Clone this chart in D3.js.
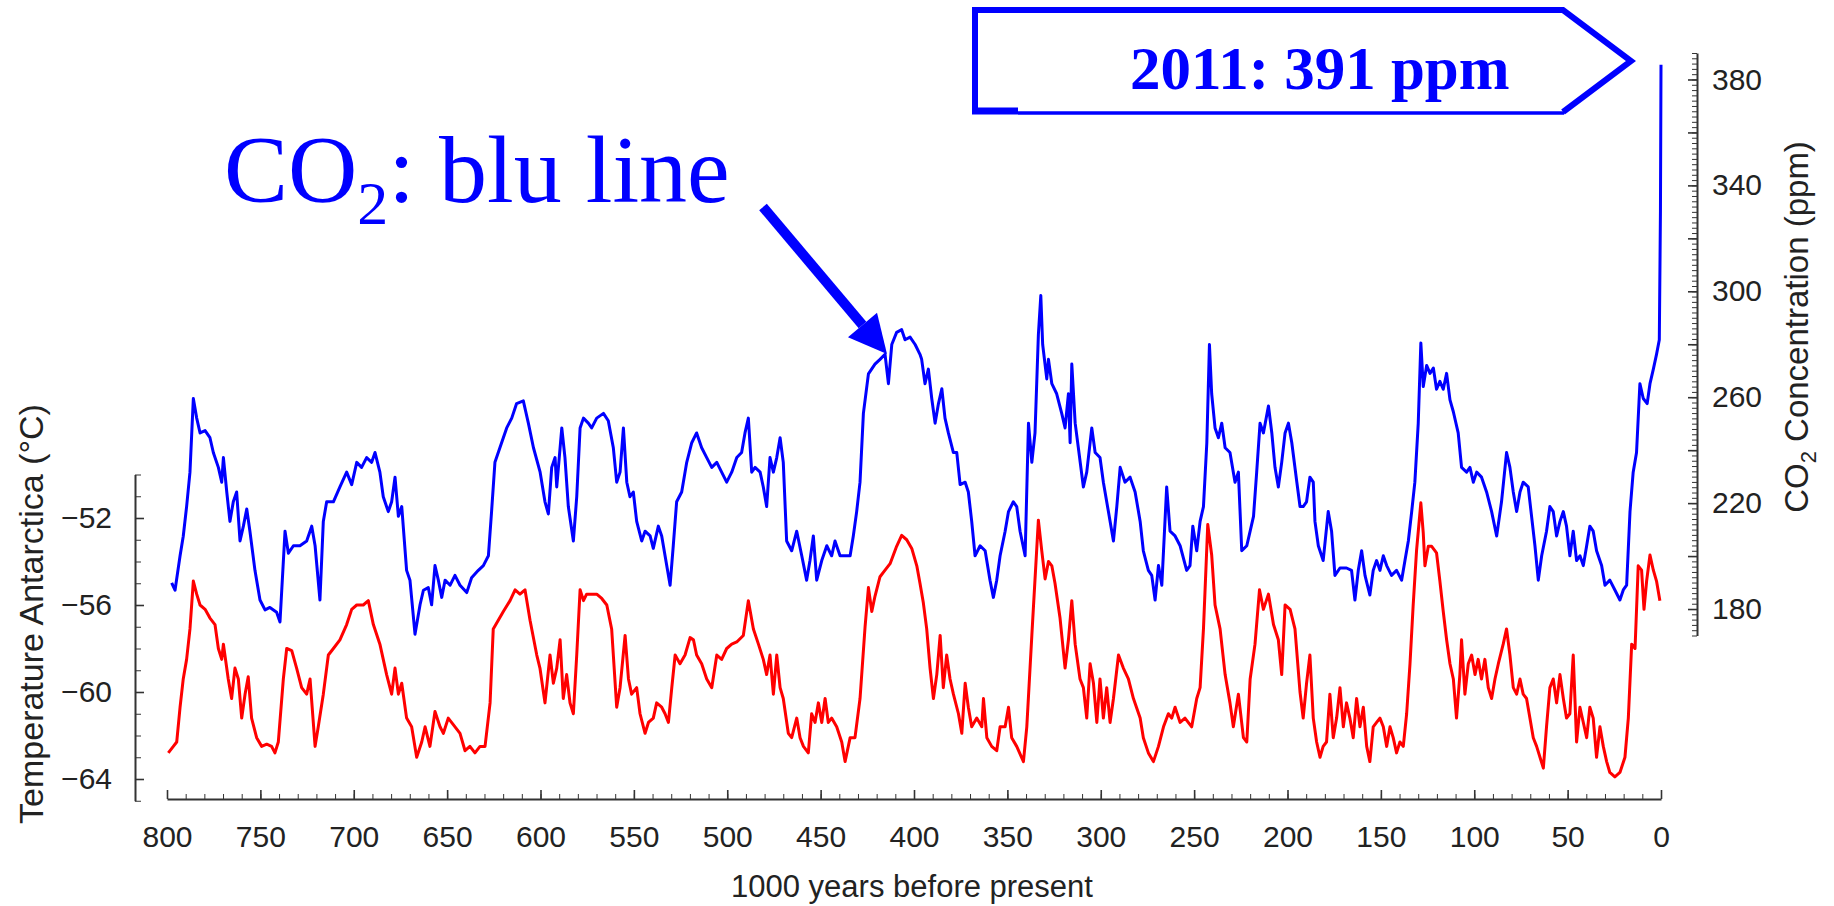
<!DOCTYPE html>
<html>
<head>
<meta charset="utf-8">
<script src="https://cdn.jsdelivr.net/npm/d3@7"></script>
<style>
  body { margin: 0; background: #fff; }
  .axis text { font-family: "Liberation Sans", Arial, sans-serif; font-size: 30px; fill: #222; }
  .axis path, .axis line { stroke: #333; }
</style>
</head>
<body>
<div id="chart"></div>
<script>
// thousand years before present, CO2 in ppm
let co2Series = [
  [797.5,189.9],[795.7,187.1],[793.0,200.1],[791.3,207.5],[789.5,218.7],[787.7,231.7],[785.9,259.5],[784.1,252.1],
  [782.3,246.5],[779.6,247.4],[777.0,244.7],[775.2,239.1],[772.5,233.5],[770.7,227.9],[769.8,237.2],[768.0,224.2],
  [766.3,213.1],[764.5,220.5],[762.7,224.2],[760.9,205.7],[759.1,211.3],[757.3,217.8],[755.6,209.4],[752.9,194.6],
  [750.2,183.4],[747.5,179.7],[744.9,180.6],[741.3,178.8],[739.5,175.1],[736.8,209.4],[735.0,201.1],[732.3,203.9],
  [728.8,203.9],[725.2,205.7],[722.5,211.3],[720.7,203.9],[718.1,183.4],[716.3,213.1],[714.5,220.5],[710.9,220.5],
  [707.4,226.1],[703.8,231.7],[701.1,227.0],[698.4,235.4],[695.8,233.5],[693.1,237.2],[690.4,235.4],[688.6,239.1],
  [686.0,231.7],[684.2,222.4],[681.5,216.8],[679.7,220.5],[677.9,229.8],[676.1,215.0],[674.3,218.7],[671.7,194.6],
  [669.9,190.9],[667.2,170.5],[664.5,181.6],[662.7,187.1],[660.1,188.1],[658.3,181.6],[656.5,196.4],[654.7,190.9],
  [652.9,184.4],[651.1,190.9],[648.4,189.0],[645.8,192.7],[643.1,189.0],[639.5,186.2],[636.9,191.8],[633.3,194.6],
  [630.6,196.4],[627.9,200.1],[626.2,216.8],[624.4,235.4],[621.7,241.0],[618.1,248.4],[615.4,252.1],[612.8,257.6],
  [609.2,258.6],[606.5,250.2],[603.8,241.0],[600.2,231.7],[597.6,220.5],[595.8,215.9],[594.0,233.5],[592.2,237.2],
  [591.3,226.1],[588.6,248.4],[586.9,237.2],[585.1,218.7],[582.4,205.7],[580.6,222.4],[578.8,248.4],[577.0,252.1],
  [574.4,250.2],[572.6,248.4],[569.9,252.1],[566.3,253.9],[563.7,251.1],[561.0,240.9],[559.2,227.9],[557.4,231.7],
  [555.6,248.4],[553.8,227.9],[552.1,222.4],[550.3,224.2],[548.5,213.1],[545.8,205.7],[544.0,209.4],[541.3,207.6],
  [539.6,202.9],[536.9,211.3],[535.1,207.6],[533.3,200.1],[530.6,189.0],[528.9,203.9],[527.1,220.5],[524.4,224.2],
  [521.7,235.4],[519.0,242.8],[516.4,246.5],[513.7,240.9],[511.0,237.2],[508.3,233.5],[505.6,235.4],[503.0,231.7],
  [500.3,227.9],[497.6,231.7],[494.9,237.2],[492.3,239.1],[490.5,246.5],[488.7,252.1],[486.9,231.7],[485.1,233.5],
  [482.4,231.7],[480.7,226.1],[478.9,218.7],[477.1,237.2],[475.3,231.7],[473.5,237.2],[471.7,244.7],[470.0,235.4],
  [468.2,205.7],[465.5,202.0],[462.8,209.4],[460.1,200.1],[457.5,190.9],[455.7,198.3],[453.9,207.6],[452.1,190.9],
  [449.4,198.3],[446.7,203.9],[444.1,200.1],[442.3,205.7],[439.6,200.1],[436.9,200.1],[434.2,200.1],[432.5,207.6],
  [430.7,216.8],[428.9,227.9],[427.1,253.9],[424.4,268.8],[420.9,272.5],[418.2,274.3],[415.5,276.2],[413.7,265.1],
  [411.9,279.9],[409.3,284.5],[406.6,285.5],[404.8,281.7],[402.1,282.7],[399.4,279.9],[396.8,276.2],[395.9,274.3],
  [394.1,265.1],[392.3,270.6],[390.5,259.5],[388.7,250.2],[386.9,257.6],[385.1,263.2],[383.4,252.1],[381.6,246.5],
  [378.9,239.1],[377.1,239.1],[375.3,227.0],[372.6,227.9],[370.9,224.2],[369.1,213.1],[367.3,200.1],[364.6,203.9],
  [361.9,202.0],[359.3,190.9],[357.5,184.4],[355.7,190.9],[353.9,200.1],[351.2,209.4],[349.4,216.8],[346.8,220.5],
  [345.0,218.7],[343.2,209.4],[340.5,200.1],[338.7,250.2],[336.9,235.4],[335.2,246.5],[333.4,283.6],[332.1,298.4],
  [331.1,279.9],[328.9,266.9],[328.0,274.3],[326.2,265.1],[323.6,261.3],[320.9,253.9],[319.1,248.4],[317.3,261.3],
  [316.4,242.8],[315.5,272.5],[313.7,250.2],[312.0,240.9],[309.3,226.1],[307.5,231.7],[304.8,248.4],[303.0,239.1],
  [300.4,237.2],[298.6,227.9],[295.9,216.8],[293.2,205.7],[291.4,218.7],[289.6,233.5],[287.0,227.9],[284.3,229.8],
  [281.6,224.2],[278.9,213.1],[277.2,202.0],[274.5,194.6],[272.7,192.7],[270.9,183.4],[269.1,196.4],[267.3,189.0],
  [264.7,226.1],[262.9,209.4],[260.2,207.6],[257.5,203.9],[254.0,194.6],[252.2,196.4],[250.7,211.3],[248.6,202.0],
  [246.8,213.1],[245.0,218.7],[243.2,242.8],[241.8,279.9],[240.6,261.3],[238.8,248.4],[237.0,244.7],[235.2,250.2],
  [233.4,240.9],[230.8,239.1],[228.1,227.9],[226.3,231.7],[224.5,202.0],[221.8,203.9],[220.0,209.4],[218.2,215.0],
  [216.5,231.7],[214.7,250.2],[212.9,246.5],[210.2,256.7],[208.4,246.5],[206.7,233.5],[204.9,226.1],[203.1,235.4],
  [201.3,246.5],[199.5,250.2],[197.7,242.8],[195.0,227.9],[193.3,218.7],[191.6,218.7],[189.8,220.5],[188.0,229.8],
  [186.2,227.9],[185.3,213.1],[183.5,203.9],[180.9,198.3],[178.2,216.8],[176.4,209.4],[174.6,192.7],[171.9,195.5],
  [168.4,195.5],[165.7,194.6],[163.9,183.4],[162.1,194.6],[160.3,202.0],[158.5,192.7],[155.9,185.3],[154.1,194.6],
  [152.3,198.3],[150.5,194.6],[148.7,200.1],[146.9,196.4],[144.3,192.7],[141.6,194.6],[138.9,190.9],[137.1,198.3],
  [135.3,205.7],[133.5,216.8],[131.8,227.9],[130.0,250.0],[128.6,280.5],[127.3,264.0],[125.5,272.0],[123.7,269.0],
  [121.9,271.0],[120.2,263.0],[118.4,266.0],[116.6,263.0],[114.8,269.0],[113.0,259.0],[111.2,254.5],[108.6,246.5],
  [106.8,233.5],[104.1,231.7],[102.3,233.5],[100.5,227.9],[98.7,231.7],[96.1,229.8],[93.4,224.2],[90.7,216.8],
  [88.0,207.6],[85.4,220.5],[82.7,239.1],[80.9,233.5],[79.1,224.2],[77.3,216.8],[75.5,224.2],[73.8,227.9],
  [71.1,226.1],[69.3,215.0],[67.5,203.9],[65.7,190.9],[63.9,200.1],[61.3,209.4],[59.5,218.7],[57.7,216.8],
  [55.9,207.6],[54.1,213.1],[52.3,216.8],[50.6,211.3],[48.8,200.1],[47.0,209.4],[45.2,198.3],[43.4,200.1],
  [41.6,196.4],[39.8,203.9],[38.1,211.3],[36.3,209.4],[34.5,202.0],[31.8,196.4],[30.0,189.0],[27.4,190.9],
  [24.7,187.2],[22.0,183.4],[20.2,187.2],[18.4,189.0],[16.6,216.8],[14.9,231.7],[13.1,239.1],[11.3,265.1],
  [9.5,259.5],[7.4,257.6],[5.9,265.1],[4.1,270.6],[2.4,276.2],[0.9,281.7],[0.3,330.0],[0.0,385.6]
];

// thousand years before present, Antarctic temperature in degrees C
let tempSeries = [
  [799.3,-62.8],[796.6,-62.5],[794.8,-62.3],[793.0,-60.7],[791.3,-59.4],[789.5,-58.5],[787.7,-57.1],[785.9,-54.9],
  [784.1,-55.5],[782.3,-56.0],[779.6,-56.2],[777.0,-56.6],[774.3,-56.9],[772.5,-58.0],[770.7,-58.5],[769.8,-57.8],
  [767.2,-59.4],[765.4,-60.3],[763.6,-58.9],[761.8,-59.4],[760.0,-61.2],[758.2,-60.1],[756.5,-59.3],[754.7,-61.2],
  [752.0,-62.1],[749.3,-62.5],[746.6,-62.4],[744.0,-62.5],[742.2,-62.8],[740.4,-62.3],[737.7,-59.4],[735.9,-58.0],
  [733.2,-58.1],[730.6,-58.9],[727.9,-59.8],[725.2,-60.1],[723.4,-59.4],[720.7,-62.5],[719.0,-61.6],[716.3,-60.1],
  [713.6,-58.3],[710.9,-58.0],[707.4,-57.6],[703.8,-56.9],[701.1,-56.2],[698.4,-56.0],[694.9,-56.0],[692.2,-55.8],
  [689.5,-56.9],[686.0,-57.8],[682.4,-59.2],[679.7,-60.1],[677.9,-58.9],[676.1,-60.1],[674.3,-59.6],[671.7,-61.2],
  [669.0,-61.6],[666.3,-63.0],[663.6,-62.3],[661.8,-61.6],[659.2,-62.5],[656.5,-60.9],[653.8,-61.6],[652.0,-61.9],
  [649.4,-61.2],[646.7,-61.5],[643.1,-61.9],[640.4,-62.7],[637.8,-62.5],[635.1,-62.8],[632.4,-62.5],[629.7,-62.5],
  [627.0,-60.5],[625.3,-57.1],[622.6,-56.7],[619.9,-56.3],[616.3,-55.8],[613.6,-55.3],[611.0,-55.5],[608.3,-55.3],
  [605.6,-56.7],[602.0,-58.3],[600.3,-58.9],[597.6,-60.5],[594.9,-58.3],[593.1,-59.6],[591.3,-58.9],[589.5,-57.6],
  [587.8,-60.3],[586.0,-59.2],[584.2,-60.5],[582.4,-61.0],[580.6,-58.3],[578.8,-55.3],[577.0,-55.8],[575.3,-55.5],
  [572.6,-55.5],[569.9,-55.5],[567.2,-55.7],[564.5,-56.0],[561.9,-57.1],[559.2,-60.7],[557.4,-59.8],[554.7,-57.4],
  [552.9,-59.4],[551.2,-60.1],[548.5,-59.8],[546.7,-61.0],[544.0,-61.9],[542.2,-61.4],[539.6,-61.2],[537.8,-60.5],
  [535.1,-60.7],[533.3,-61.0],[531.5,-61.4],[529.7,-59.8],[527.9,-58.3],[525.3,-58.7],[522.6,-58.3],[519.9,-57.5],
  [518.1,-57.6],[516.4,-58.3],[513.7,-58.7],[511.0,-59.4],[508.3,-59.8],[505.6,-58.3],[503.0,-58.5],[500.3,-58.0],
  [497.6,-57.8],[494.9,-57.7],[491.4,-57.4],[488.7,-55.8],[486.0,-57.1],[483.3,-57.8],[480.7,-58.5],[478.9,-59.2],
  [477.1,-58.3],[475.3,-60.1],[473.5,-58.3],[471.7,-59.8],[470.0,-60.3],[467.3,-61.9],[465.5,-62.1],[462.8,-61.2],
  [461.0,-62.1],[459.2,-62.5],[456.6,-62.8],[454.8,-61.0],[453.0,-61.4],[451.2,-60.5],[449.4,-61.4],[447.6,-60.3],
  [445.9,-61.4],[444.1,-61.2],[441.4,-61.6],[438.7,-62.3],[436.9,-63.2],[434.2,-62.1],[431.6,-62.1],[428.9,-60.3],
  [426.2,-57.0],[424.4,-55.2],[422.6,-56.3],[420.9,-55.6],[418.2,-54.7],[415.5,-54.4],[412.8,-54.1],[409.3,-53.3],
  [406.6,-52.8],[403.9,-53.0],[401.2,-53.4],[398.5,-54.2],[396.8,-55.0],[395.0,-55.9],[393.2,-57.1],[391.4,-58.9],
  [389.6,-60.3],[387.8,-59.2],[386.0,-57.4],[384.3,-59.8],[382.5,-58.3],[380.7,-59.4],[378.9,-60.1],[376.2,-61.0],
  [374.4,-61.9],[372.6,-59.6],[370.9,-60.7],[369.1,-61.6],[366.4,-61.2],[363.7,-61.6],[362.8,-60.3],[361.0,-62.1],
  [358.4,-62.5],[355.7,-62.7],[353.9,-61.6],[351.2,-61.6],[349.4,-60.7],[347.7,-62.1],[345.0,-62.5],[341.4,-63.2],
  [339.6,-61.6],[336.9,-57.4],[333.4,-52.1],[331.6,-53.5],[329.8,-54.8],[328.0,-54.0],[326.2,-54.2],[324.5,-55.0],
  [321.8,-56.6],[319.1,-58.9],[317.3,-57.6],[315.5,-55.8],[313.7,-57.8],[311.1,-59.4],[309.3,-59.8],[307.5,-61.2],
  [305.7,-58.7],[303.9,-59.6],[302.1,-61.4],[300.4,-59.4],[298.6,-61.2],[296.8,-59.8],[295.0,-61.4],[293.2,-60.3],
  [290.5,-58.3],[287.9,-58.9],[285.2,-59.4],[282.5,-60.3],[278.9,-61.2],[277.2,-62.1],[274.5,-62.8],[271.8,-63.2],
  [269.1,-62.5],[266.4,-61.6],[263.8,-61.0],[262.0,-61.2],[260.2,-60.7],[257.5,-61.4],[254.9,-61.2],[251.3,-61.6],
  [248.6,-60.3],[246.8,-59.8],[245.0,-57.1],[242.7,-52.3],[240.6,-53.7],[238.8,-56.0],[236.1,-57.1],[233.4,-59.2],
  [230.8,-60.5],[229.0,-61.6],[226.3,-60.1],[223.6,-62.1],[221.8,-62.3],[220.0,-59.4],[217.4,-57.8],[215.0,-55.3],
  [212.9,-56.2],[210.2,-55.5],[207.5,-56.9],[204.9,-57.6],[203.1,-59.2],[201.3,-56.0],[198.6,-56.2],[196.0,-57.1],
  [193.3,-60.0],[191.6,-61.2],[189.8,-59.6],[188.0,-58.3],[186.2,-61.2],[184.4,-62.3],[182.6,-63.0],[180.9,-62.5],
  [179.1,-62.3],[177.3,-60.1],[175.5,-62.1],[173.7,-61.2],[171.9,-59.8],[170.1,-61.6],[168.4,-60.5],[166.6,-61.2],
  [164.8,-62.1],[163.0,-60.3],[161.2,-61.6],[159.4,-60.7],[157.6,-62.5],[155.9,-63.2],[154.1,-61.6],[152.3,-61.4],
  [150.5,-61.2],[148.7,-61.6],[146.9,-62.5],[145.1,-61.6],[143.4,-62.1],[141.6,-62.8],[139.8,-62.3],[138.0,-62.5],
  [136.2,-61.0],[134.4,-58.7],[132.7,-56.0],[130.9,-53.5],[128.6,-51.3],[127.3,-52.7],[126.4,-54.2],[124.6,-53.3],
  [122.8,-53.3],[120.2,-53.6],[118.4,-54.9],[116.6,-56.3],[114.8,-57.6],[113.0,-58.7],[111.2,-59.4],[109.5,-61.2],
  [107.7,-59.2],[106.8,-57.6],[105.0,-60.1],[103.2,-58.7],[101.4,-58.3],[99.6,-59.2],[97.9,-58.5],[96.1,-59.4],
  [94.3,-58.5],[92.5,-59.8],[90.7,-60.3],[88.9,-59.4],[87.1,-58.7],[84.5,-57.8],[82.7,-57.1],[80.9,-58.3],
  [79.1,-59.8],[77.3,-60.1],[75.5,-59.4],[73.8,-60.1],[72.0,-60.3],[70.2,-61.2],[68.4,-62.1],[66.6,-62.5],
  [64.8,-63.0],[63.0,-63.5],[61.3,-61.6],[59.5,-59.8],[57.7,-59.4],[55.9,-60.5],[54.1,-59.2],[52.3,-60.3],
  [50.6,-61.2],[48.8,-61.0],[47.0,-58.3],[45.2,-62.3],[43.4,-60.7],[41.6,-61.4],[39.8,-62.1],[38.1,-60.7],
  [36.3,-61.2],[34.5,-63.0],[32.7,-61.6],[30.9,-62.5],[29.1,-63.2],[27.4,-63.7],[24.7,-63.9],[22.0,-63.7],
  [19.3,-63.0],[17.5,-61.2],[15.7,-57.8],[13.9,-58.0],[12.2,-54.2],[10.4,-54.4],[9.1,-56.2],[7.7,-54.9],
  [5.9,-53.7],[4.1,-54.4],[2.4,-54.9],[0.6,-55.8]
];

// tick labels
let yearTicks = [800, 750, 700, 650, 600, 550, 500, 450, 400, 350, 300, 250, 200, 150, 100, 50, 0];
let tempTicks = [-52, -56, -60, -64];
let co2Ticks = [180, 220, 260, 300, 340, 380];

let width = 1834, height = 906;

let svg = d3.select("#chart")
    .append("svg")
    .attr("width", width)
    .attr("height", height);

// scales
let x = d3.scaleLinear().domain([800, 0]).range([167, 1661]);
let yTemp = d3.scaleLinear().domain([-65, -50]).range([800.75, 474.5]);
let yCo2 = d3.scaleLinear().domain([170, 390]).range([635.5, 53]);

// X axis, ticks point up into the plot
let xAxisY = 799;
svg.append("g")
    .attr("class", "axis")
    .attr("transform", "translate(0," + xAxisY + ")")
    .call(d3.axisBottom(x).tickValues(d3.range(0, 801, 10)).tickSizeInner(-5).tickSizeOuter(0).tickFormat(""))
    .call(g => g.select(".domain").attr("stroke-width", 2));
svg.append("g")
    .attr("class", "axis")
    .attr("transform", "translate(0," + xAxisY + ")")
    .call(d3.axisBottom(x).tickValues(yearTicks).tickSizeInner(-9).tickSizeOuter(0).tickPadding(27))
    .call(g => g.select(".domain").remove())
    .call(g => g.selectAll("line").attr("stroke-width", 1.6));

svg.append("text")
    .attr("x", 912)
    .attr("y", 897)
    .attr("text-anchor", "middle")
    .style("font-family", "Liberation Sans, Arial, sans-serif")
    .style("font-size", "31px")
    .attr("fill", "#222")
    .text("1000 years before present");

// left axis (temperature)
let leftX = 135;
svg.append("g")
    .attr("class", "axis")
    .attr("transform", "translate(" + leftX + ",0)")
    .call(d3.axisLeft(yTemp).tickValues(d3.range(-65, -49.5, 1)).tickSizeInner(-6).tickSizeOuter(0).tickFormat(""))
    .call(g => g.select(".domain").attr("stroke-width", 2));
svg.append("g")
    .attr("class", "axis")
    .attr("transform", "translate(" + leftX + ",0)")
    .call(d3.axisLeft(yTemp).tickValues(tempTicks).tickSizeInner(-9).tickSizeOuter(0).tickPadding(23))
    .call(g => g.select(".domain").remove())
    .call(g => g.selectAll("line").attr("stroke-width", 1.6));

svg.append("text")
    .attr("transform", "translate(43,614) rotate(-90)")
    .attr("text-anchor", "middle")
    .style("font-family", "Liberation Sans, Arial, sans-serif")
    .style("font-size", "34px")
    .attr("fill", "#222")
    .text("Temperature Antarctica (°C)");

// right axis (CO2)
let rightX = 1697;
svg.append("g")
    .attr("class", "axis")
    .attr("transform", "translate(" + rightX + ",0)")
    .call(d3.axisRight(yCo2).tickValues(d3.range(170, 391, 2)).tickSizeInner(-5).tickSizeOuter(0).tickFormat(""))
    .call(g => g.select(".domain").attr("stroke-width", 2));
svg.append("g")
    .attr("class", "axis")
    .attr("transform", "translate(" + rightX + ",0)")
    .call(d3.axisRight(yCo2).tickValues(d3.range(180, 381, 20)).tickSizeInner(-9).tickSizeOuter(0)
        .tickFormat(d => co2Ticks.includes(d) ? d : "").tickPadding(15))
    .call(g => g.select(".domain").remove())
    .call(g => g.selectAll("line").attr("stroke-width", 1.6));

let co2Title = svg.append("text")
    .attr("transform", "translate(1808,327) rotate(-90)")
    .attr("text-anchor", "middle")
    .style("font-family", "Liberation Sans, Arial, sans-serif")
    .style("font-size", "33px")
    .attr("fill", "#222");
co2Title.append("tspan").text("CO");
co2Title.append("tspan").attr("dy", 8).style("font-size", "22px").text("2");
co2Title.append("tspan").attr("dy", -8).text(" Concentration (ppm)");

// the two series
svg.append("path")
    .datum(tempSeries)
    .attr("fill", "none")
    .attr("stroke", "#ff0000")
    .attr("stroke-width", 3)
    .attr("stroke-linejoin", "round")
    .attr("d", d3.line()
        .x(function(d) { return x(d[0]) })
        .y(function(d) { return yTemp(d[1]) })
    );

svg.append("path")
    .datum(co2Series)
    .attr("fill", "none")
    .attr("stroke", "#0000ff")
    .attr("stroke-width", 3)
    .attr("stroke-linejoin", "round")
    .attr("d", d3.line()
        .x(function(d) { return x(d[0]) })
        .y(function(d) { return yCo2(d[1]) })
    );

// "CO2: blu line" note and its arrow
let note = svg.append("text")
    .attr("x", 224)
    .attr("y", 202)
    .style("font-family", "Liberation Serif, 'Times New Roman', serif")
    .style("font-size", "96px")
    .attr("fill", "#0000ff");
note.append("tspan").text("CO");
note.append("tspan").attr("dy", 22).style("font-size", "62px").text("2");
note.append("tspan").attr("dy", -22).text(": blu line");

let a0 = [763, 207], a1 = [887, 354];
let ang = Math.atan2(a1[1] - a0[1], a1[0] - a0[0]);
let headLen = 38, headHalf = 19;
let base = [a1[0] - headLen * Math.cos(ang), a1[1] - headLen * Math.sin(ang)];
svg.append("line")
    .attr("x1", a0[0]).attr("y1", a0[1])
    .attr("x2", base[0]).attr("y2", base[1])
    .attr("stroke", "#0000ff")
    .attr("stroke-width", 10);
svg.append("path")
    .attr("d", "M" + a1[0] + "," + a1[1] +
        "L" + (base[0] + headHalf * Math.sin(ang)) + "," + (base[1] - headHalf * Math.cos(ang)) +
        "L" + (base[0] - headHalf * Math.sin(ang)) + "," + (base[1] + headHalf * Math.cos(ang)) + "Z")
    .attr("fill", "#0000ff");

// "2011: 391 ppm" call-out box
svg.append("path")
    .attr("d", "M975,113 L975,10 L1563,10 L1631,61 L1563,112")
    .attr("fill", "none")
    .attr("stroke", "#0000ff")
    .attr("stroke-width", 6)
    .attr("stroke-linejoin", "miter");
svg.append("line")
    .attr("x1", 1018).attr("y1", 113).attr("x2", 1564).attr("y2", 113)
    .attr("stroke", "#0000ff")
    .attr("stroke-width", 3.5);
svg.append("line")
    .attr("x1", 972).attr("y1", 111).attr("x2", 1018).attr("y2", 111)
    .attr("stroke", "#0000ff")
    .attr("stroke-width", 7);

svg.append("text")
    .attr("x", 1130)
    .attr("y", 89)
    .style("font-family", "Liberation Serif, 'Times New Roman', serif")
    .style("font-size", "61px")
    .style("font-weight", "bold")
    .attr("fill", "#0000ff")
    .text("2011: 391 ppm");
</script>
</body>
</html>
